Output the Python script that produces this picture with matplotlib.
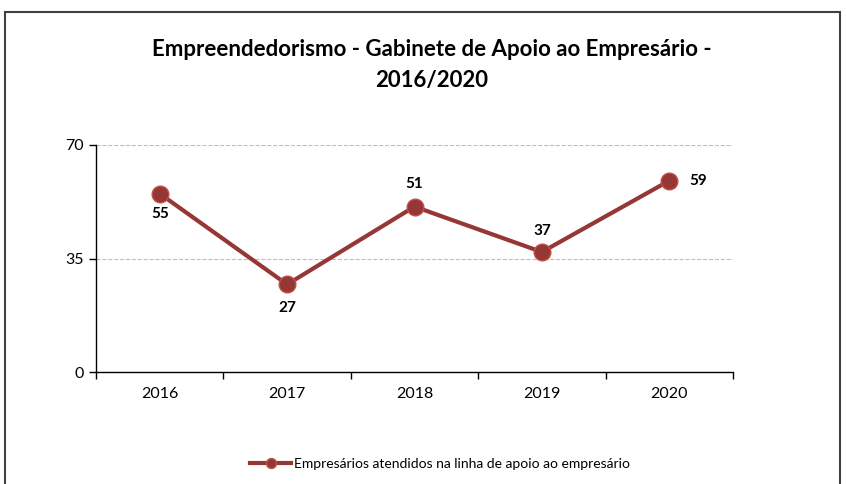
import matplotlib.pyplot as plt
from matplotlib.patches import Rectangle

anos = ['2016', '2017', '2018', '2019', '2020']
empresarios = [55, 27, 51, 37, 59]
# posição de cada rótulo: (dx pontos, dy pontos)
desloc = [(0, -15), (0, -17), (0, 16), (0, 15), (21, 0)]

plt.rcParams['font.family'] = ['Lato', 'DejaVu Sans']

fig = plt.figure(figsize=(8.46, 4.84), dpi=100)
ax = fig.add_axes([96 / 846, 1 - 372 / 484, 637 / 846, 227 / 484])

x = list(range(len(anos)))
ax.plot(x, empresarios, color='#953735', lw=3, marker='o', ms=12,
        mfc='#953735', mec='#c0504d', mew=1,
        label='Empresários atendidos na linha de apoio ao empresário')

for xi, v, (dx, dy) in zip(x, empresarios, desloc):
    ax.annotate(str(v), (xi, v), xytext=(dx, dy), textcoords='offset points',
                ha='center', va='center', fontsize=11, fontweight='bold')

ax.set_xlim(-0.5, len(anos) - 0.5)
ax.set_ylim(0, 70)
ax.set_yticks([0, 35, 70])
ax.set_xticks(x)
ax.set_xticklabels(anos)
ax.set_xticks([i - 0.5 for i in range(len(anos) + 1)], minor=True)
ax.tick_params(axis='x', which='major', length=0, pad=11, labelsize=11.5)
ax.tick_params(axis='x', which='minor', length=5, direction='out', width=1)
ax.tick_params(axis='y', length=5, direction='out', width=1, labelsize=11.5, pad=4)
ax.grid(axis='y', color='#bfbfbf', ls='--', lw=0.8)
ax.set_axisbelow(True)
for s in ['top', 'right']:
    ax.spines[s].set_visible(False)
for s in ['left', 'bottom']:
    ax.spines[s].set_linewidth(1)

fig.text(432 / 846, 1 - 50 / 484, 'Empreendedorismo - Gabinete de Apoio ao Empresário -',
         ha='center', va='center', fontsize=16, fontweight='bold')
fig.text(432 / 846, 1 - 80 / 484, '2016/2020',
         ha='center', va='center', fontsize=16, fontweight='bold')

fig.legend(loc='center', bbox_to_anchor=(440 / 846, 1 - 464 / 484), frameon=False,
           fontsize=10, handlelength=3, handletextpad=0.2, markerscale=0.6)

fig.patches.append(Rectangle((5 / 846, -0.05), 835 / 846, 1.05 - 12 / 484,
                             transform=fig.transFigure, fill=False,
                             ec='#404040', lw=1.5))

fig.savefig('out.png', dpi=100)
